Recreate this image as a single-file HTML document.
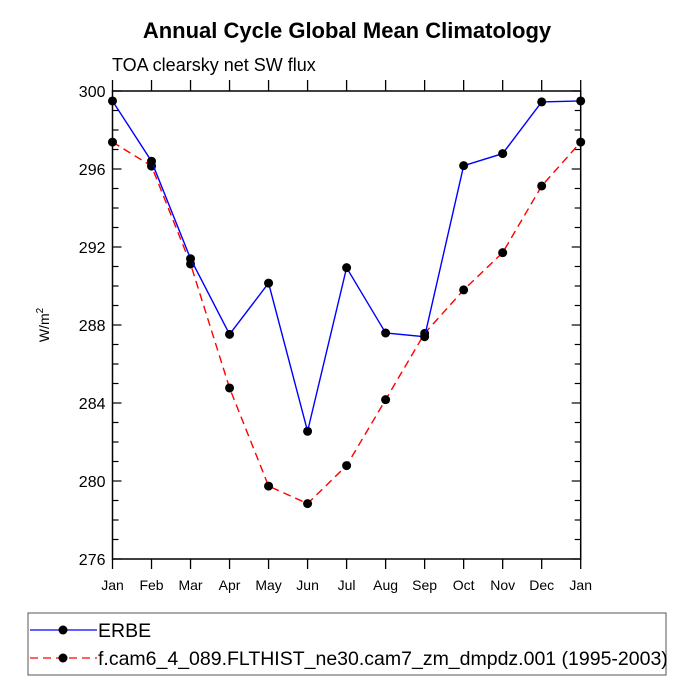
<!DOCTYPE html>
<html><head><meta charset="utf-8"><style>
html,body{margin:0;padding:0;background:#fff}
svg{display:block;font-family:"Liberation Sans",sans-serif}
</style></head><body>
<svg id="chart" width="694" height="694" viewBox="0 0 694 694">
<text x="347" y="38" text-anchor="middle" font-size="22" font-weight="bold">Annual Cycle Global Mean Climatology</text>
<text x="112" y="71" font-size="18">TOA clearsky net SW flux</text>
<text transform="translate(49,325) rotate(-90)" text-anchor="middle" font-size="14">W/m<tspan font-size="10" dy="-6">2</tspan></text>
<g id="axes"></g>
<g id="series"></g>
<rect x="28" y="613" width="638" height="62" fill="none" stroke="#555" stroke-width="1"/>
<g>
<line x1="30" y1="630" x2="97" y2="630" stroke="#0000ff" stroke-width="1.3"/>
<circle cx="63" cy="630" r="4.5" fill="#000"/>
<text x="98" y="637" font-size="19.5">ERBE</text>
</g>
<g>
<line x1="30" y1="658" x2="97" y2="658" stroke="#ff0000" stroke-width="1.3" stroke-dasharray="8,5"/>
<circle cx="63" cy="658" r="4.5" fill="#000"/>
<text x="98" y="665" font-size="19.5">f.cam6_4_089.FLTHIST_ne30.cam7_zm_dmpdz.001 (1995-2003)</text>
</g>
</svg>
<script>
const months = ["Jan","Feb","Mar","Apr","May","Jun","Jul","Aug","Sep","Oct","Nov","Dec","Jan"];
const erbe = [299.49,296.4,291.4,287.52,290.15,282.55,290.94,287.59,287.4,296.17,296.79,299.44,299.49];
const model = [297.38,296.15,291.13,284.77,279.74,278.84,280.79,284.17,287.57,289.8,291.71,295.13,297.38];
const yTicks = [276,280,284,288,292,296,300];
const yMin = 276, yMax = 300;
const L=112.5, R=580.7, T=91, B=559;
const ns="http://www.w3.org/2000/svg";
const xs = i => L + (R-L)*i/(months.length-1);
const ys = v => B - (B-T)*(v-yMin)/(yMax-yMin);
function mk(tag, attrs, parent){const e=document.createElementNS(ns,tag);for(const k in attrs)e.setAttribute(k,attrs[k]);parent.appendChild(e);return e;}
const ax=document.getElementById('axes');
const frame=mk('rect',{x:L,y:T,width:R-L,height:B-T,fill:'none',stroke:'#000','stroke-width':1.5},ax);


months.forEach((m,i)=>{
  const x=xs(i);
  mk('line',{x1:x,y1:B,x2:x,y2:B+10,stroke:'#000','stroke-width':1.3},ax);
  mk('line',{x1:x,y1:T,x2:x,y2:T-11,stroke:'#000','stroke-width':1.3},ax);
  const t=mk('text',{x:x,y:B+31,'text-anchor':'middle','font-size':14},ax);
  t.textContent=m;
  
  
});
for(let v=yMin; v<=yMax; v++){
  const y=ys(v), major=(v-yMin)%4===0;
  const len=major?9:6;
  mk('line',{x1:L,y1:y,x2:L+len,y2:y,stroke:'#000','stroke-width':1.2},ax);
  mk('line',{x1:R,y1:y,x2:R-len,y2:y,stroke:'#000','stroke-width':1.2},ax);
}
yTicks.forEach(v=>{
  const t=mk('text',{x:L-7,y:ys(v)+6,'text-anchor':'end','font-size':16},ax);
  t.textContent=v;
  
  
});
const sg=document.getElementById('series');
function draw(vals,color,dash,name){
  const g=mk('g',{},sg);
  
  
  const pts=vals.map((v,i)=>xs(i)+','+ys(v)).join(' ');
  const a={points:pts,fill:'none',stroke:color,'stroke-width':1.4};
  if(dash)a['stroke-dasharray']=dash;
  mk('polyline',a,g);
  vals.forEach((v,i)=>{
    const c=mk('circle',{cx:xs(i),cy:ys(v),r:4.5,fill:'#000'},g);
    
    
  });
}
draw(model,'#ff0000','8,5','model-series');
draw(erbe,'#0000ff',null,'erbe-series');
</script>
</body></html>
